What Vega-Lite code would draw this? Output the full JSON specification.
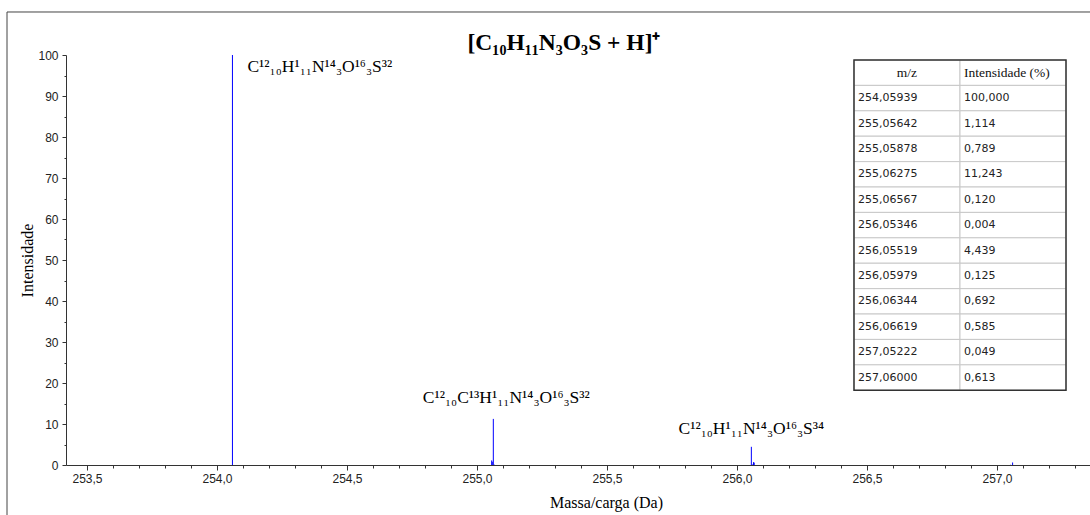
{
  "$schema": "https://vega.github.io/schema/vega-lite/v6.json",
  "width": 1024,
  "height": 410,
  "autosize": {"type": "none"},
  "padding": {"left": 66, "top": 55, "right": 0, "bottom": 50},
  "background": "white",
  "config": {
    "view": {"stroke": null},
    "axis": {"labelOverlap": false, "labelFlush": false},
    "locale": {"number": {"decimal": ",", "thousands": ".", "grouping": [3], "currency": ["", " €"]}}
  },
  "datasets": {
    "peaks": [
      {"mz": 254.05939, "intensidade": 100.0},
      {"mz": 255.05642, "intensidade": 1.114},
      {"mz": 255.05878, "intensidade": 0.789},
      {"mz": 255.06275, "intensidade": 11.243},
      {"mz": 255.06567, "intensidade": 0.12},
      {"mz": 256.05346, "intensidade": 0.004},
      {"mz": 256.05519, "intensidade": 4.439},
      {"mz": 256.05979, "intensidade": 0.125},
      {"mz": 256.06344, "intensidade": 0.692},
      {"mz": 256.06619, "intensidade": 0.585},
      {"mz": 257.05222, "intensidade": 0.049},
      {"mz": 257.06, "intensidade": 0.613}
    ],
    "labels": [
      {"pico": "M", "mz": 254.05939, "intensidade": 100.0, "formula": "C¹²₁₀H¹₁₁N¹⁴₃O¹⁶₃S³²"},
      {"pico": "M+1", "mz": 255.06275, "intensidade": 11.243, "formula": "C¹²₁₀C¹³H¹₁₁N¹⁴₃O¹⁶₃S³²"},
      {"pico": "M+2", "mz": 256.05519, "intensidade": 4.439, "formula": "C¹²₁₀H¹₁₁N¹⁴₃O¹⁶₃S³⁴"}
    ],
    "table": [
      {"mz": "m/z", "int": "Intensidade (%)"},
      {"mz": "254,05939", "int": "100,000"},
      {"mz": "255,05642", "int": "1,114"},
      {"mz": "255,05878", "int": "0,789"},
      {"mz": "255,06275", "int": "11,243"},
      {"mz": "255,06567", "int": "0,120"},
      {"mz": "256,05346", "int": "0,004"},
      {"mz": "256,05519", "int": "4,439"},
      {"mz": "256,05979", "int": "0,125"},
      {"mz": "256,06344", "int": "0,692"},
      {"mz": "256,06619", "int": "0,585"},
      {"mz": "257,05222", "int": "0,049"},
      {"mz": "257,06000", "int": "0,613"}
    ]
  },
  "layer": [
    {
      "resolve": {"axis": {"x": "independent", "y": "independent"}},
      "layer": [
        {
          "data": {"name": "peaks"},
          "mark": {"type": "rule", "color": "#0000ff", "strokeWidth": 1},
          "encoding": {
            "x": {
              "field": "mz", "type": "quantitative",
              "scale": {"domain": [253.4192, 257.3577], "nice": false, "zero": false},
              "axis": {
                "orient": "bottom",
                "values": [253.5, 254.0, 254.5, 255.0, 255.5, 256.0, 256.5, 257.0],
                "format": ".1f", "tickSize": 5,
                "labelOverlap": false, "labelFlush": false,
                "labelFont": "Liberation Sans Narrow, Liberation Sans", "labelFontSize": 12, "labelColor": "#222", "labelPadding": 3,
                "domainColor": "#333", "tickColor": "#333", "grid": false,
                "title": "Massa/carga (Da)", "titleFont": "Liberation Serif", "titleFontSize": 16, "titleFontWeight": "normal", "titleColor": "#000", "titlePadding": 10, "titleX": 540
              }
            },
            "y": {
              "field": "intensidade", "type": "quantitative",
              "scale": {"domain": [0, 100], "nice": false},
              "axis": {
                "orient": "left",
                "values": [0, 10, 20, 30, 40, 50, 60, 70, 80, 90, 100],
                "tickSize": 4,
                "labelOverlap": false, "labelFlush": false,
                "labelFont": "Liberation Sans Narrow, Liberation Sans", "labelFontSize": 12, "labelColor": "#222", "labelPadding": 4,
                "domainColor": "#333", "tickColor": "#333", "grid": false,
                "title": "Intensidade", "titleFont": "Liberation Serif", "titleFontSize": 16, "titleFontWeight": "normal", "titleColor": "#000", "titlePadding": 2
              }
            },
            "y2": {"datum": 0}
          }
        },
        {
          "data": {"name": "labels"},
          "transform": [{"filter": "datum.pico == 'M'"}],
          "mark": {"type": "text", "align": "left", "baseline": "alphabetic", "dx": 15, "dy": 17, "font": "Liberation Serif", "fontSize": 17.5, "color": "#000"},
          "encoding": {
            "x": {"field": "mz", "type": "quantitative", "axis": null},
            "y": {"field": "intensidade", "type": "quantitative", "axis": null},
            "text": {"field": "formula"}
          }
        },
        {
          "data": {"name": "labels"},
          "transform": [{"filter": "datum.pico == 'M+1'"}],
          "mark": {"type": "text", "align": "center", "baseline": "alphabetic", "dx": 13, "dy": -16, "font": "Liberation Serif", "fontSize": 17.5, "color": "#000"},
          "encoding": {
            "x": {"field": "mz", "type": "quantitative", "axis": null},
            "y": {"field": "intensidade", "type": "quantitative", "axis": null},
            "text": {"field": "formula"}
          }
        },
        {
          "data": {"name": "labels"},
          "transform": [{"filter": "datum.pico == 'M+2'"}],
          "mark": {"type": "text", "align": "center", "baseline": "alphabetic", "dx": 0, "dy": -13, "font": "Liberation Serif", "fontSize": 17.5, "color": "#000"},
          "encoding": {
            "x": {"field": "mz", "type": "quantitative", "axis": null},
            "y": {"field": "intensidade", "type": "quantitative", "axis": null},
            "text": {"field": "formula"}
          }
        },
        {
          "data": {"values": [{"titulo": "[C₁₀H₁₁N₃O₃S + H]⁺"}]},
          "mark": {"type": "text", "align": "center", "baseline": "alphabetic", "font": "Liberation Serif", "fontSize": 23.5, "fontWeight": "bold", "color": "#000"},
          "encoding": {
            "x": {"datum": 255.3346, "type": "quantitative", "axis": null},
            "y": {"datum": 101.2, "type": "quantitative", "axis": null},
            "text": {"field": "titulo"}
          }
        },
        {
          "data": {"values": [{}]},
          "mark": {"type": "rule", "color": "#444", "strokeWidth": 1},
          "encoding": {
            "x": {
              "datum": 253.1923, "type": "quantitative",
              "axis": {
                "orient": "bottom",
                "values": [253.6, 253.7, 253.8, 253.9, 254.1, 254.2, 254.3, 254.4, 254.6, 254.7, 254.8, 254.9, 255.1, 255.2, 255.3, 255.4, 255.6, 255.7, 255.8, 255.9, 256.1, 256.2, 256.3, 256.4, 256.6, 256.7, 256.8, 256.9, 257.1, 257.2, 257.3],
                "labels": false, "domain": false, "tickSize": 3, "tickColor": "#333", "grid": false, "title": null
              }
            },
            "y": {
              "datum": 110.49, "type": "quantitative",
              "axis": {
                "orient": "left",
                "values": [5, 15, 25, 35, 45, 55, 65, 75, 85, 95],
                "labels": false, "domain": false, "tickSize": 2, "tickColor": "#333", "grid": false, "title": null
              }
            },
            "y2": {"datum": -12.2}
          }
        },
        {
          "data": {"values": [{}]},
          "mark": {"type": "rule", "color": "#444", "strokeWidth": 1},
          "encoding": {
            "x": {"datum": 253.1923, "type": "quantitative", "axis": null},
            "x2": {"datum": 257.3577},
            "y": {"datum": 110.49, "type": "quantitative", "axis": null}
          }
        }
      ]
    },
    {
      "data": {"name": "table"},
      "transform": [{"fold": ["mz", "int"], "as": ["col", "val"]}],
      "layer": [
        {
          "mark": {"type": "rect", "fill": "white", "stroke": "#c8c8c8", "strokeWidth": 1},
          "encoding": {
            "x": {"field": "col", "type": "nominal", "scale": {"domain": ["_1", "_2", "_3", "_4", "_5", "_6", "_7", "mz", "int"], "paddingInner": 0, "paddingOuter": 0.33, "align": 0.657}, "axis": null},
            "y": {"field": "mz", "type": "nominal", "scale": {"domain": ["m/z", "254,05939", "255,05642", "255,05878", "255,06275", "255,06567", "256,05346", "256,05519", "256,05979", "256,06344", "256,06619", "257,05222", "257,06000", "_a", "_b"], "paddingInner": 0, "paddingOuter": 0.57, "align": 0.1727}, "axis": null}
          }
        },
        {
          "transform": [{"filter": "datum.mz != 'm/z'"}],
          "mark": {"type": "text", "align": "left", "baseline": "middle", "dx": 4, "font": "DejaVu Sans", "fontSize": 11, "color": "#222"},
          "encoding": {
            "x": {"field": "col", "type": "nominal", "bandPosition": 0, "scale": {"domain": ["_1", "_2", "_3", "_4", "_5", "_6", "_7", "mz", "int"], "paddingInner": 0, "paddingOuter": 0.33, "align": 0.657}, "axis": null},
            "y": {"field": "mz", "type": "nominal", "scale": {"domain": ["m/z", "254,05939", "255,05642", "255,05878", "255,06275", "255,06567", "256,05346", "256,05519", "256,05979", "256,06344", "256,06619", "257,05222", "257,06000", "_a", "_b"], "paddingInner": 0, "paddingOuter": 0.57, "align": 0.1727}, "axis": null},
            "text": {"field": "val"}
          }
        },
        {
          "transform": [{"filter": "datum.mz == 'm/z' && datum.col == 'mz'"}],
          "mark": {"type": "text", "align": "center", "baseline": "middle", "font": "Liberation Serif", "fontSize": 13.5, "color": "#111"},
          "encoding": {
            "x": {"field": "col", "type": "nominal", "scale": {"domain": ["_1", "_2", "_3", "_4", "_5", "_6", "_7", "mz", "int"], "paddingInner": 0, "paddingOuter": 0.33, "align": 0.657}, "axis": null},
            "y": {"field": "mz", "type": "nominal", "scale": {"domain": ["m/z", "254,05939", "255,05642", "255,05878", "255,06275", "255,06567", "256,05346", "256,05519", "256,05979", "256,06344", "256,06619", "257,05222", "257,06000", "_a", "_b"], "paddingInner": 0, "paddingOuter": 0.57, "align": 0.1727}, "axis": null},
            "text": {"field": "val"}
          }
        },
        {
          "transform": [{"filter": "datum.mz == 'm/z' && datum.col == 'int'"}],
          "mark": {"type": "text", "align": "left", "baseline": "middle", "dx": 4, "font": "Liberation Serif", "fontSize": 13.5, "color": "#111"},
          "encoding": {
            "x": {"field": "col", "type": "nominal", "bandPosition": 0, "scale": {"domain": ["_1", "_2", "_3", "_4", "_5", "_6", "_7", "mz", "int"], "paddingInner": 0, "paddingOuter": 0.33, "align": 0.657}, "axis": null},
            "y": {"field": "mz", "type": "nominal", "scale": {"domain": ["m/z", "254,05939", "255,05642", "255,05878", "255,06275", "255,06567", "256,05346", "256,05519", "256,05979", "256,06344", "256,06619", "257,05222", "257,06000", "_a", "_b"], "paddingInner": 0, "paddingOuter": 0.57, "align": 0.1727}, "axis": null},
            "text": {"field": "val"}
          }
        },
        {
          "data": {"values": [{"c1": "mz", "c2": "int", "r1": "m/z", "r2": "257,06000"}]},
          "mark": {"type": "rect", "fillOpacity": 0, "stroke": "#333", "strokeWidth": 1.5},
          "encoding": {
            "x": {"field": "c1", "type": "nominal", "bandPosition": 0, "scale": {"domain": ["_1", "_2", "_3", "_4", "_5", "_6", "_7", "mz", "int"], "paddingInner": 0, "paddingOuter": 0.33, "align": 0.657}, "axis": null},
            "x2": {"field": "c2", "bandPosition": 1},
            "y": {"field": "r1", "type": "nominal", "bandPosition": 0, "scale": {"domain": ["m/z", "254,05939", "255,05642", "255,05878", "255,06275", "255,06567", "256,05346", "256,05519", "256,05979", "256,06344", "256,06619", "257,05222", "257,06000", "_a", "_b"], "paddingInner": 0, "paddingOuter": 0.57, "align": 0.1727}, "axis": null},
            "y2": {"field": "r2", "bandPosition": 1}
          }
        }
      ]
    }
  ],
  "resolve": {"scale": {"x": "independent", "y": "independent"}}
}
